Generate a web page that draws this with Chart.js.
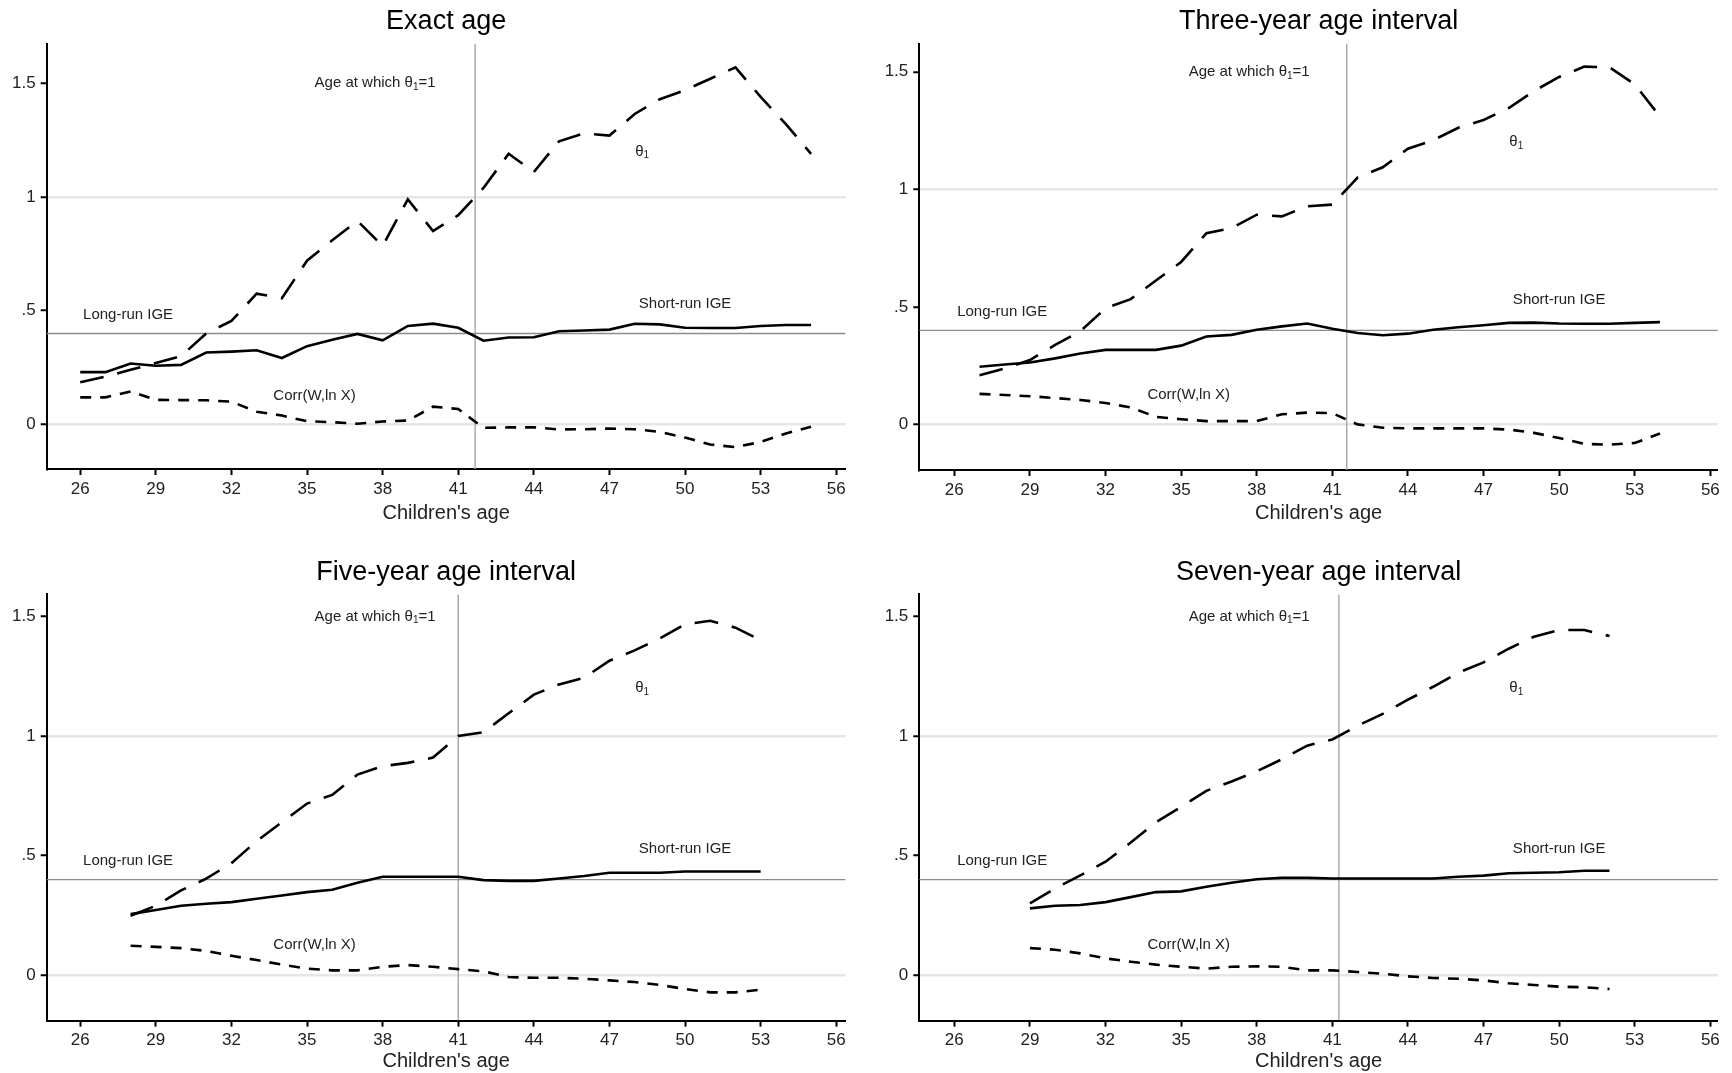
<!DOCTYPE html>
<html>
<head>
<meta charset="utf-8">
<script src="https://cdn.jsdelivr.net/npm/chart.js@4.4.1/dist/chart.umd.min.js"></script>
<style>
  html, body { margin: 0; padding: 0; background: #fff; }
  body { width: 1732px; height: 1073px; position: relative; overflow: hidden; }
  canvas { position: absolute; }
</style>
</head>
<body>
<canvas id="exact" width="866" height="536" style="left:0;top:0"></canvas>
<canvas id="three" width="866" height="536" style="left:866px;top:0"></canvas>
<canvas id="five" width="866" height="537" style="left:0;top:536px"></canvas>
<canvas id="seven" width="866" height="537" style="left:866px;top:536px"></canvas>
<script>
// panel titles and axis ticks
const titles = ['Exact age', 'Three-year age interval', 'Five-year age interval', 'Seven-year age interval'];
const xTicks = [26, 29, 32, 35, 38, 41, 44, 47, 50, 53, 56];
const yTicks = [0, 0.5, 1, 1.5];
const yTickLabels = ['0', '.5', '1', '1.5'];
const xTitle = "Children's age";

const longRunIGE = 0.4;
// age at which theta1 = 1, one per panel
const crossAges = [41.67, 41.57, 41.0, 41.26];

// text labels inside the plots (data coordinates)
const labelText = ['Age at which θ₁=1', 'θ₁', 'Long-run IGE', 'Short-run IGE', 'Corr(W,ln X)'];
const labelX = [37.7, 48.3, 27.9, 50.0, 35.3];
const labelY = [1.5, 1.2, 0.48, 0.53, 0.127];

// Exact age
const agesExact = [26,27,28,29,30,31,32,33,34,35,36,37,38,39,40,41,42,43,44,45,46,47,48,49,50,51,52,53,54,55];
const thetaExact = [0.185,0.21,0.24,0.27,0.30,0.40,0.455,0.575,0.555,0.72,0.81,0.895,0.785,0.99,0.85,0.92,1.04,1.19,1.11,1.245,1.28,1.27,1.365,1.43,1.47,1.52,1.57,1.44,1.32,1.19];
const shortExact = [0.23,0.23,0.268,0.258,0.262,0.316,0.32,0.326,0.292,0.344,0.372,0.398,0.37,0.433,0.443,0.425,0.368,0.382,0.383,0.41,0.413,0.417,0.443,0.44,0.425,0.424,0.424,0.433,0.437,0.437];
const corrExact = [0.119,0.119,0.145,0.108,0.107,0.106,0.10,0.056,0.039,0.014,0.01,0.003,0.013,0.017,0.078,0.068,-0.015,-0.013,-0.013,-0.022,-0.021,-0.018,-0.021,-0.033,-0.058,-0.088,-0.10,-0.077,-0.04,-0.01];

// Three-year interval
const agesThree = [27,28,29,30,31,32,33,34,35,36,37,38,39,40,41,42,43,44,45,46,47,48,49,50,51,52,53,54];
const thetaThree = [0.209,0.238,0.274,0.338,0.396,0.494,0.533,0.612,0.691,0.813,0.835,0.892,0.885,0.928,0.935,1.05,1.094,1.173,1.209,1.262,1.295,1.346,1.418,1.478,1.522,1.519,1.447,1.31];
const shortThree = [0.245,0.255,0.263,0.281,0.302,0.317,0.317,0.317,0.335,0.374,0.381,0.403,0.417,0.429,0.407,0.389,0.379,0.386,0.403,0.413,0.422,0.432,0.433,0.429,0.428,0.428,0.432,0.435];
const corrThree = [0.13,0.125,0.12,0.112,0.104,0.091,0.072,0.032,0.022,0.014,0.014,0.014,0.043,0.05,0.048,0.0,-0.014,-0.017,-0.017,-0.017,-0.017,-0.022,-0.036,-0.058,-0.083,-0.086,-0.079,-0.039];

// Five-year interval
const agesFive = [28,29,30,31,32,33,34,35,36,37,38,39,40,41,42,43,44,45,46,47,48,49,50,51,52,53];
const thetaFive = [0.249,0.291,0.355,0.404,0.469,0.561,0.64,0.718,0.754,0.839,0.874,0.888,0.91,1.0,1.016,1.095,1.173,1.216,1.244,1.315,1.358,1.408,1.467,1.482,1.453,1.401];
const shortFive = [0.256,0.273,0.291,0.299,0.306,0.32,0.334,0.348,0.358,0.387,0.412,0.412,0.412,0.412,0.398,0.395,0.395,0.405,0.415,0.429,0.429,0.429,0.434,0.434,0.434,0.434];
const corrFive = [0.124,0.119,0.114,0.102,0.082,0.064,0.045,0.028,0.021,0.021,0.036,0.043,0.036,0.026,0.017,-0.007,-0.01,-0.01,-0.014,-0.021,-0.028,-0.04,-0.057,-0.071,-0.071,-0.06];

// Seven-year interval
const agesSeven = [29,30,31,32,33,34,35,36,37,38,39,40,41,42,43,44,45,46,47,48,49,50,51,52];
const thetaSeven = [0.301,0.363,0.418,0.475,0.555,0.64,0.704,0.771,0.81,0.853,0.903,0.96,0.986,1.043,1.093,1.152,1.206,1.265,1.308,1.365,1.415,1.443,1.443,1.418];
const shortSeven = [0.28,0.291,0.294,0.306,0.327,0.348,0.351,0.37,0.387,0.402,0.408,0.408,0.405,0.405,0.405,0.405,0.405,0.412,0.417,0.427,0.429,0.431,0.437,0.437];
const corrSeven = [0.114,0.107,0.092,0.071,0.057,0.045,0.036,0.028,0.036,0.038,0.036,0.021,0.021,0.014,0.007,-0.004,-0.011,-0.014,-0.021,-0.033,-0.04,-0.047,-0.05,-0.057];

const FONT = 'Liberation Sans, Arial, sans-serif';

// canvas layout for each panel: plot area edges inside the canvas
const panels = [
  { id: 'exact', ages: agesExact, theta: thetaExact, shortRun: shortExact, corr: corrExact,
    xMin: 24.67, xMax: 56.37, yMin: -0.196, yMax: 1.675,
    w: 866, h: 536, left: 46.7, right: 845.6, top: 43.5, bottom: 469, titleY: 22, xTitleY: 513 },
  { id: 'three', ages: agesThree, theta: thetaThree, shortRun: shortThree, corr: corrThree,
    xMin: 24.61, xMax: 56.3, yMin: -0.194, yMax: 1.62,
    w: 866, h: 536, left: 53.3, right: 851.9, top: 43.6, bottom: 470, titleY: 22, xTitleY: 513 },
  { id: 'five', ages: agesFive, theta: thetaFive, shortRun: shortFive, corr: corrFive,
    xMin: 24.67, xMax: 56.37, yMin: -0.189, yMax: 1.592,
    w: 866, h: 537, left: 46.7, right: 845.6, top: 58.4, bottom: 484.6, titleY: 37, xTitleY: 526 },
  { id: 'seven', ages: agesSeven, theta: thetaSeven, shortRun: shortSeven, corr: corrSeven,
    xMin: 24.61, xMax: 56.3, yMin: -0.189, yMax: 1.592,
    w: 866, h: 537, left: 53.3, right: 851.9, top: 58.4, bottom: 484.6, titleY: 37, xTitleY: 526 }
];

function pts(xs, ys) {
  return xs.map((x, i) => ({ x: x, y: ys[i] }));
}

// draws a label, turning "₁" into a small lowered 1
function drawLabel(ctx, text, cx, cy) {
  const parts = text.split('₁');
  const big = '15px ' + FONT, small = '10px ' + FONT;
  let total = 0;
  parts.forEach((p, i) => {
    ctx.font = big; total += ctx.measureText(p).width;
    if (i < parts.length - 1) { ctx.font = small; total += ctx.measureText('1').width; }
  });
  let x = cx - total / 2;
  ctx.textAlign = 'left';
  ctx.textBaseline = 'middle';
  parts.forEach((p, i) => {
    ctx.font = big;
    ctx.fillText(p, x, cy);
    x += ctx.measureText(p).width;
    if (i < parts.length - 1) {
      ctx.font = small;
      ctx.fillText('1', x, cy + 4);
      x += ctx.measureText('1').width;
    }
  });
}

const labelsPlugin = {
  id: 'plotLabels',
  afterDatasetsDraw(chart) {
    const ctx = chart.ctx, xs = chart.scales.x, ys = chart.scales.y;
    ctx.save();
    ctx.fillStyle = '#222';
    labelText.forEach((t, i) => {
      drawLabel(ctx, t, xs.getPixelForValue(labelX[i]), ys.getPixelForValue(labelY[i]));
    });
    ctx.restore();
  }
};

panels.forEach((p, k) => {
  new Chart(document.getElementById(p.id), {
    type: 'line',
    data: {
      datasets: [
        { label: 'theta1', data: pts(p.ages, p.theta), borderColor: '#000', borderWidth: 2.6, borderDash: [24, 14] },
        { label: 'Short-run IGE', data: pts(p.ages, p.shortRun), borderColor: '#000', borderWidth: 2.6 },
        { label: 'Corr(W,ln X)', data: pts(p.ages, p.corr), borderColor: '#000', borderWidth: 2.6, borderDash: [11, 9] },
        { label: 'Long-run IGE', data: [{ x: p.xMin, y: longRunIGE }, { x: p.xMax, y: longRunIGE }], borderColor: '#8c8c8c', borderWidth: 1.4 },
        { label: 'cross', data: [{ x: crossAges[k], y: p.yMin }, { x: crossAges[k], y: p.yMax }], borderColor: '#a6a6a6', borderWidth: 1.4 }
      ]
    },
    options: {
      responsive: false,
      animation: false,
      elements: { point: { radius: 0 }, line: { tension: 0, borderCapStyle: 'butt', fill: false } },
      layout: { padding: { left: 0, right: p.w - p.right, top: 0, bottom: 0 } },
      plugins: {
        legend: { display: false },
        tooltip: { enabled: false },
        title: {
          display: true,
          text: titles[k],
          fullSize: false,
          color: '#000',
          font: { family: FONT, size: 27, weight: 'normal', lineHeight: 1.2 },
          padding: { top: p.titleY - 16.2, bottom: p.top - p.titleY - 16.2 }
        }
      },
      scales: {
        x: {
          type: 'linear',
          min: p.xMin,
          max: p.xMax,
          afterBuildTicks: s => { s.ticks = xTicks.map(v => ({ value: v })); },
          afterFit: s => { s.height = p.h - p.bottom; },
          ticks: { color: '#222', font: { family: FONT, size: 17 }, padding: 4, autoSkip: false, maxRotation: 0 },
          grid: { drawOnChartArea: false, tickColor: '#000', tickWidth: 2, tickLength: 6 },
          border: { color: '#000', width: 2 },
          title: {
            display: true, text: xTitle, color: '#222',
            font: { family: FONT, size: 20, lineHeight: 1.2 },
            padding: { top: 0, bottom: Math.max(0, p.h - p.xTitleY - 12) }
          }
        },
        y: {
          type: 'linear',
          min: p.yMin,
          max: p.yMax,
          afterBuildTicks: s => { s.ticks = yTicks.map(v => ({ value: v })); },
          afterFit: s => { s.width = p.left; },
          ticks: {
            color: '#222', font: { family: FONT, size: 17 }, padding: 5,
            callback: v => yTickLabels[yTicks.indexOf(v)]
          },
          grid: {
            color: c => (c.tick && (c.tick.value === 0 || c.tick.value === 1)) ? '#e6e6e6' : 'rgba(0,0,0,0)',
            lineWidth: 2.5,
            tickColor: '#000', tickWidth: 2, tickLength: 6
          },
          border: { color: '#000', width: 2 }
        }
      }
    },
    plugins: [labelsPlugin]
  });
});
</script>
</body>
</html>
